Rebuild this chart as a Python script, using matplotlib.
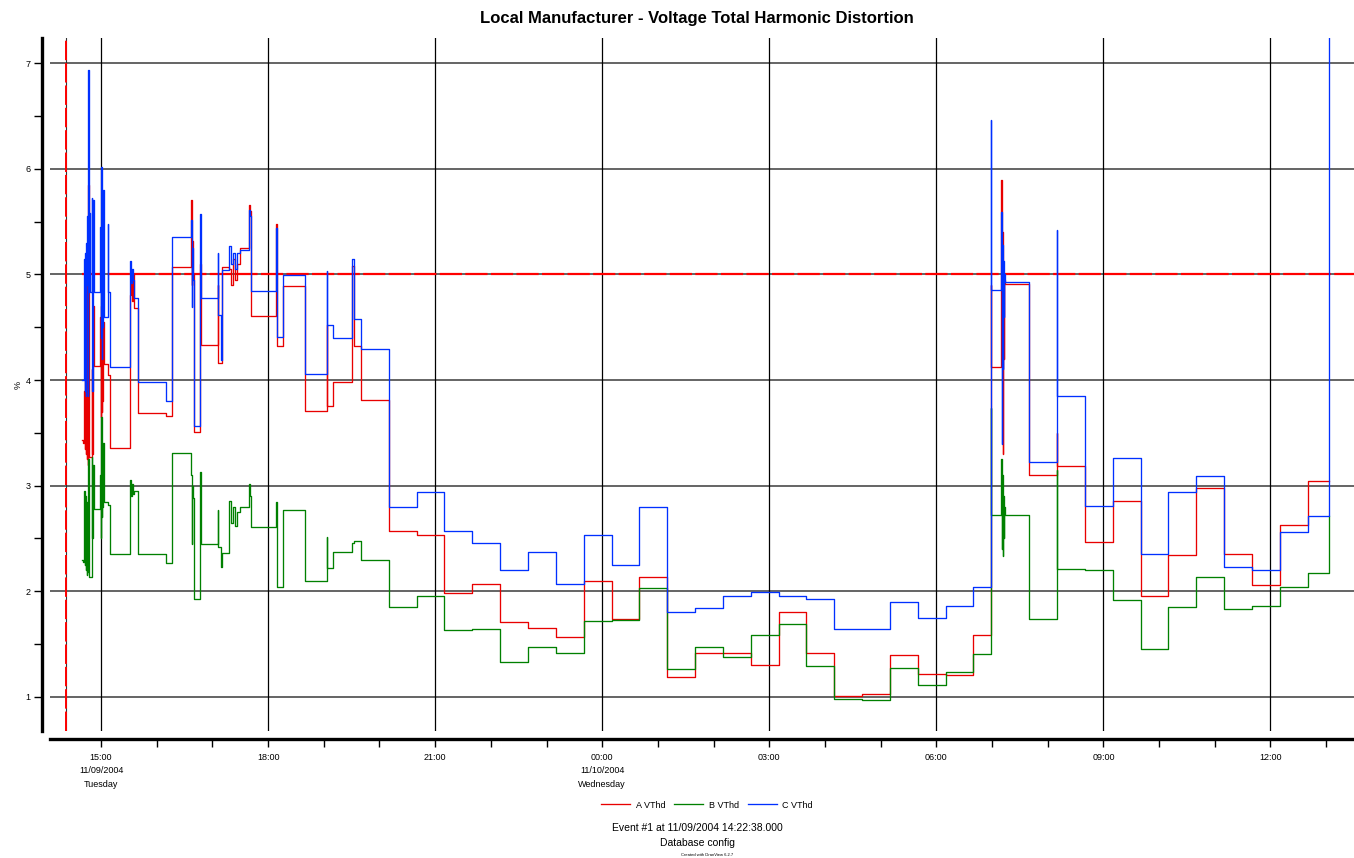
import numpy as np
import pandas as pd
import matplotlib
matplotlib.use("Agg")
import matplotlib.pyplot as plt
import matplotlib.dates as mdates
from matplotlib.ticker import FixedLocator, FixedFormatter, MultipleLocator

plt.rcParams['font.family'] = ['Liberation Sans', 'DejaVu Sans']

# record times (one record holds all three phases)
times = [
    "2004-11-09 14:40:00", "2004-11-09 14:41:00", "2004-11-09 14:42:00", "2004-11-09 14:42:30",
    "2004-11-09 14:43:00", "2004-11-09 14:43:30", "2004-11-09 14:44:00", "2004-11-09 14:44:30",
    "2004-11-09 14:45:00", "2004-11-09 14:45:30", "2004-11-09 14:46:00", "2004-11-09 14:46:30",
    "2004-11-09 14:47:00", "2004-11-09 14:48:00", "2004-11-09 14:50:00", "2004-11-09 14:50:30",
    "2004-11-09 14:51:00", "2004-11-09 14:52:00", "2004-11-09 14:59:00", "2004-11-09 14:59:30",
    "2004-11-09 15:00:00", "2004-11-09 15:00:30", "2004-11-09 15:01:00", "2004-11-09 15:01:30",
    "2004-11-09 15:02:00", "2004-11-09 15:03:00", "2004-11-09 15:07:00", "2004-11-09 15:07:30",
    "2004-11-09 15:10:00", "2004-11-09 15:31:00", "2004-11-09 15:32:00", "2004-11-09 15:33:00",
    "2004-11-09 15:34:00", "2004-11-09 15:35:00", "2004-11-09 15:40:00", "2004-11-09 16:10:00",
    "2004-11-09 16:16:00", "2004-11-09 16:37:00", "2004-11-09 16:37:30", "2004-11-09 16:38:00",
    "2004-11-09 16:39:00", "2004-11-09 16:40:00", "2004-11-09 16:47:00", "2004-11-09 16:47:30",
    "2004-11-09 17:06:00", "2004-11-09 17:06:30", "2004-11-09 17:09:00", "2004-11-09 17:10:00",
    "2004-11-09 17:18:00", "2004-11-09 17:20:00", "2004-11-09 17:22:00", "2004-11-09 17:24:00",
    "2004-11-09 17:26:00", "2004-11-09 17:30:00", "2004-11-09 17:39:00", "2004-11-09 17:40:00",
    "2004-11-09 17:42:00", "2004-11-09 18:09:00", "2004-11-09 18:10:00", "2004-11-09 18:16:00",
    "2004-11-09 18:40:00", "2004-11-09 19:03:00", "2004-11-09 19:03:30", "2004-11-09 19:10:00",
    "2004-11-09 19:30:00", "2004-11-09 19:33:00", "2004-11-09 19:40:00",
    "2004-11-09 20:10:00", "2004-11-09 20:40:00", "2004-11-09 21:10:00", "2004-11-09 21:40:00",
    "2004-11-09 22:10:00", "2004-11-09 22:40:00", "2004-11-09 23:10:00", "2004-11-09 23:40:00",
    "2004-11-10 00:10:00", "2004-11-10 00:40:00", "2004-11-10 01:10:00", "2004-11-10 01:40:00",
    "2004-11-10 02:10:00", "2004-11-10 02:40:00", "2004-11-10 03:10:00", "2004-11-10 03:40:00",
    "2004-11-10 04:10:00", "2004-11-10 04:40:00", "2004-11-10 05:10:00", "2004-11-10 05:40:00",
    "2004-11-10 06:10:00", "2004-11-10 06:40:00", "2004-11-10 06:59:00", "2004-11-10 06:59:20",
    "2004-11-10 07:10:00", "2004-11-10 07:10:30", "2004-11-10 07:11:00", "2004-11-10 07:11:30",
    "2004-11-10 07:12:00", "2004-11-10 07:12:30", "2004-11-10 07:13:00", "2004-11-10 07:14:00",
    "2004-11-10 07:40:00", "2004-11-10 08:10:00", "2004-11-10 08:10:30", "2004-11-10 08:40:00",
    "2004-11-10 09:10:00", "2004-11-10 09:40:00", "2004-11-10 10:10:00", "2004-11-10 10:40:00",
    "2004-11-10 11:10:00", "2004-11-10 11:40:00", "2004-11-10 12:10:00", "2004-11-10 12:40:00",
    "2004-11-10 13:03:00",
]

a_vthd = [
    3.43, 3.40, 3.90, 3.35, 4.60, 3.30, 5.00, 3.25, 3.60, 3.20, 5.85, 3.80,
    3.27, 3.27, 4.10, 3.30, 4.70, 4.13, 4.60, 3.65, 4.70, 3.70, 4.40, 3.80,
    4.55, 4.15, 4.05, 4.05, 3.36, 4.80, 4.95, 4.75, 5.00, 4.68, 3.685, 3.66,
    5.07, 5.70, 4.90, 5.32, 5.00, 3.51, 5.10, 4.33, 4.90, 4.16, 4.16, 5.07,
    5.05, 4.90, 5.15, 4.95, 5.10, 5.246, 5.656, 5.60, 4.606, 5.48, 4.32, 4.89,
    3.71, 4.52, 3.75, 3.98, 5.08, 4.32, 3.81,
    2.574, 2.53, 1.98, 2.067, 1.707, 1.656, 1.57, 2.10, 1.74, 2.14, 1.19, 1.42,
    1.42, 1.30, 1.80, 1.42, 1.01, 1.03, 1.40, 1.22, 1.21, 1.59, 4.90, 4.12,
    5.89, 4.19, 5.40, 3.30, 5.00, 4.20, 4.95, 4.91, 3.10, 3.50, 3.186, 2.47,
    2.857, 1.956, 2.344, 2.975, 2.35, 2.06, 2.63, 3.04, 3.04,
]

b_vthd = [
    2.30, 2.28, 2.95, 2.25, 2.90, 2.20, 2.85, 2.15, 2.60, 2.18, 3.25, 2.40,
    2.14, 2.14, 3.27, 2.50, 3.20, 2.78, 3.10, 2.50, 3.65, 2.70, 3.55, 2.80,
    3.40, 2.85, 2.82, 2.82, 2.35, 3.05, 2.90, 3.02, 2.92, 2.95, 2.35, 2.265,
    3.31, 3.10, 2.45, 3.00, 2.88, 1.93, 3.13, 2.45, 2.77, 2.42, 2.23, 2.365,
    2.857, 2.65, 2.80, 2.62, 2.75, 2.795, 3.016, 2.90, 2.61, 2.85, 2.045, 2.77,
    2.10, 2.51, 2.224, 2.375, 2.455, 2.48, 2.297,
    1.85, 1.96, 1.634, 1.644, 1.33, 1.476, 1.42, 1.72, 1.73, 2.03, 1.265, 1.476,
    1.38, 1.59, 1.688, 1.29, 0.98, 0.97, 1.27, 1.11, 1.24, 1.41, 3.735, 2.72,
    3.25, 2.40, 3.10, 2.33, 2.90, 2.50, 2.80, 2.72, 1.74, 3.15, 2.215, 2.20,
    1.92, 1.455, 1.855, 2.14, 1.833, 1.86, 2.045, 2.17, 2.71,
]

c_vthd = [
    4.00, 4.00, 5.15, 3.90, 5.20, 3.85, 5.30, 4.90, 5.55, 3.85, 6.93, 4.83,
    5.58, 4.83, 5.72, 3.90, 5.70, 4.83, 5.45, 4.40, 6.02, 4.20, 5.95, 4.50,
    5.80, 4.60, 5.48, 4.83, 4.12, 5.13, 4.92, 5.05, 4.95, 4.78, 3.98, 3.80,
    5.356, 5.51, 4.69, 5.25, 4.95, 3.56, 5.57, 4.78, 5.20, 4.62, 4.19, 5.04,
    5.27, 5.10, 5.20, 5.05, 5.20, 5.23, 5.61, 5.55, 4.845, 5.44, 4.41, 4.99,
    4.06, 5.03, 4.52, 4.395, 5.15, 4.58, 4.295,
    2.795, 2.943, 2.574, 2.46, 2.205, 2.375, 2.067, 2.53, 2.246, 2.795, 1.80, 1.846,
    1.96, 1.99, 1.96, 1.93, 1.644, 1.644, 1.896, 1.75, 1.864, 2.04, 6.46, 4.85,
    5.59, 3.39, 5.28, 4.10, 5.13, 4.60, 5.00, 4.93, 3.227, 5.42, 3.85, 2.81,
    3.26, 2.35, 2.94, 3.09, 2.23, 2.20, 2.565, 2.713, 7.60,
]

series_names = ["A VThd", "B VThd", "C VThd"]
series_colors = ["#e80000", "#008000", "#0030ff"]

event_time = "2004-11-09 14:22:38"
limit_value = 5.0

xtick_times = ["2004-11-09 15:00", "2004-11-09 18:00", "2004-11-09 21:00", "2004-11-10 00:00",
               "2004-11-10 03:00", "2004-11-10 06:00", "2004-11-10 09:00", "2004-11-10 12:00"]
xtick_labels = ["15:00\n11/09/2004\nTuesday", "18:00", "21:00", "00:00\n11/10/2004\nWednesday",
                "03:00", "06:00", "09:00", "12:00"]

t = pd.to_datetime(times)
fig = plt.figure(figsize=(13.54, 8.58), dpi=100)
ax = fig.add_axes([50/1354, 1-731/858, 1-50/1354, (731-38)/858])

ax.set_xlim(pd.Timestamp("2004-11-09 14:05"), pd.Timestamp("2004-11-10 13:30"))
ax.set_ylim(0.678, 7.237)

# grid
for yv in range(1, 8):
    ax.axhline(yv, color="#4a4a4a", lw=1.2, zorder=1)
for xt in xtick_times:
    ax.axvline(pd.Timestamp(xt), color="black", lw=0.9, zorder=1)

# limit and event markers
ax.hlines(limit_value, t[0], pd.Timestamp("2004-11-10 13:30"), colors="red",
          linestyles=(0, (10, 1.5)), lw=1.6, zorder=2)
ax.axvline(pd.Timestamp(event_time), color="#333333", lw=0.8, zorder=2)
ax.axvline(pd.Timestamp(event_time), color="red", lw=1.4, ls=(0, (10, 1.5)), zorder=2)

for vals, name, col in zip([a_vthd, b_vthd, c_vthd], series_names, series_colors):
    ax.step(t, vals, where="post", color=col, lw=0.95, label=name, zorder=3)

# axes styling
for s in ["top", "right"]:
    ax.spines[s].set_visible(False)
ax.spines["left"].set_position(("outward", 6))
ax.spines["bottom"].set_position(("outward", 6))
ax.spines["left"].set_linewidth(2.4)
ax.spines["bottom"].set_linewidth(2.4)

ax.yaxis.set_major_locator(FixedLocator(range(1, 8)))
ax.yaxis.set_minor_locator(MultipleLocator(0.5))
ax.tick_params(axis="y", which="both", direction="out", length=6, width=1, labelsize=6.5, pad=2)

ax.xaxis.set_major_locator(FixedLocator(mdates.date2num(pd.to_datetime(xtick_times))))
ax.xaxis.set_major_formatter(FixedFormatter(xtick_labels))
ax.xaxis.set_minor_locator(mdates.HourLocator())
ax.tick_params(axis="x", which="both", direction="out", length=6, width=1, labelsize=6.5, pad=4)
for lbl in ax.get_xticklabels():
    lbl.set_linespacing(1.6)

ax.set_ylabel("%", fontsize=6.5, labelpad=2)

fig.suptitle("Local Manufacturer - Voltage Total Harmonic Distortion", fontsize=12,
             fontweight="bold", x=697/1354, y=1-18/858, va="center")

fig.legend(loc="center", bbox_to_anchor=(707/1354, 1-805/858), ncol=3, frameon=False,
           fontsize=6.5, handlelength=3.2, columnspacing=1.0, handletextpad=0.6)

fig.text(697/1354, 1-828/858, "Event #1 at 11/09/2004 14:22:38.000", ha="center", va="center", fontsize=7.5)
fig.text(697/1354, 1-843/858, "Database config", ha="center", va="center", fontsize=7.5)
fig.text(707/1354, 1-855/858, "Created with DranView 6.2.7", ha="center", va="center", fontsize=3)

fig.savefig("out.png", dpi=100)
